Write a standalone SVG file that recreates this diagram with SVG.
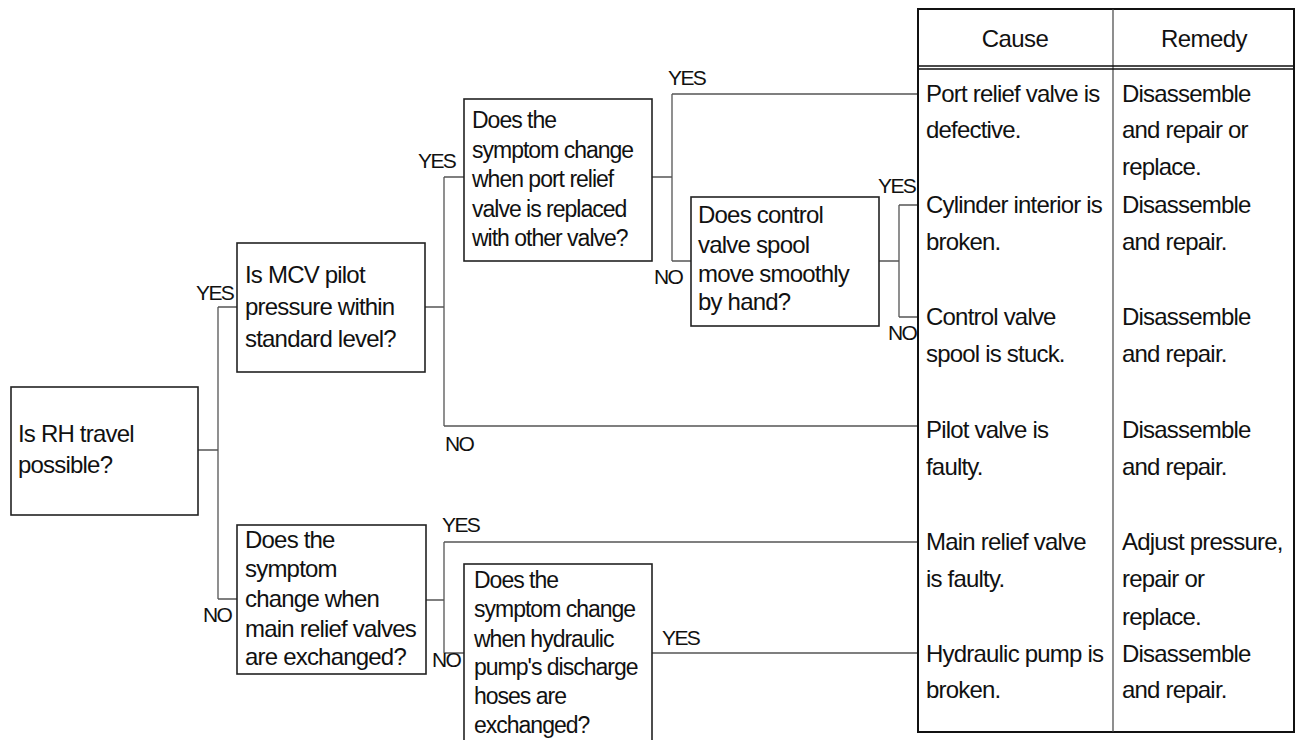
<svg xmlns="http://www.w3.org/2000/svg" width="1308" height="740" viewBox="0 0 1308 740">
<style>
.t{font-family:"Liberation Sans",Arial,sans-serif;font-size:24px;letter-spacing:-0.8px;fill:#111}
.s{font-family:"Liberation Sans",Arial,sans-serif;font-size:23px;letter-spacing:-1px;fill:#111}
.l{font-family:"Liberation Sans",Arial,sans-serif;font-size:21px;letter-spacing:-1.6px;fill:#111}
.h{font-family:"Liberation Sans",Arial,sans-serif;font-size:24px;letter-spacing:-0.6px;fill:#111;text-anchor:middle}
.box{fill:#fff;stroke:#222;stroke-width:1.6}
.c{fill:none;stroke:#555;stroke-width:1.3}
</style>
<rect width="1308" height="740" fill="#fff"/>
<g id="connectors">
<path class="c" d="M198,450H218M218,307V599M218,307H237M218,599H237"/>
<path class="c" d="M425,307H444M444,177V426M444,177H464M444,426H918"/>
<path class="c" d="M652,177H672M672,94V261M672,94H918M672,261H691"/>
<path class="c" d="M879,261H899M899,205V317M899,205H918M899,317H918"/>
<path class="c" d="M426,600H444M444,542V653M444,542H918M444,653H464"/>
<path class="c" d="M652,653H918"/>
<text class="l" x="196" y="300">YES</text>
<text class="l" x="203" y="622">NO</text>
<text class="l" x="418" y="168">YES</text>
<text class="l" x="445" y="451">NO</text>
<text class="l" x="668" y="85">YES</text>
<text class="l" x="654" y="284">NO</text>
<text class="l" x="878" y="193">YES</text>
<text class="l" x="888" y="340">NO</text>
<text class="l" x="442" y="532">YES</text>
<text class="l" x="432" y="667">NO</text>
<text class="l" x="662" y="645">YES</text>
</g>
<g id="root">
<rect class="box" x="11" y="387" width="187" height="128"/>
<text class="t"><tspan x="18" y="442">Is RH travel</tspan><tspan x="18" y="473">possible?</tspan></text>
</g>
<g id="mcv">
<rect class="box" x="237" y="243" width="188" height="129"/>
<text class="t"><tspan x="245" y="283">Is MCV pilot</tspan><tspan x="245" y="315">pressure within</tspan><tspan x="245" y="347">standard level?</tspan></text>
</g>
<g id="portrelief">
<rect class="box" x="464" y="99" width="188" height="162"/>
<text class="s"><tspan x="472" y="128">Does the</tspan><tspan x="472" y="158">symptom change</tspan><tspan x="472" y="187">when port relief</tspan><tspan x="472" y="217">valve is replaced</tspan><tspan x="472" y="246">with other valve?</tspan></text>
</g>
<g id="control">
<rect class="box" x="691" y="197" width="188" height="129"/>
<text class="t"><tspan x="698" y="223">Does control</tspan><tspan x="698" y="253">valve spool</tspan><tspan x="698" y="282">move smoothly</tspan><tspan x="698" y="310">by hand?</tspan></text>
</g>
<g id="mainrelief">
<rect class="box" x="237" y="525" width="189" height="149"/>
<text class="t"><tspan x="245" y="548">Does the</tspan><tspan x="245" y="577">symptom</tspan><tspan x="245" y="607">change when</tspan><tspan x="245" y="637">main relief valves</tspan><tspan x="245" y="665">are exchanged?</tspan></text>
</g>
<g id="hydraulic">
<rect class="box" x="464" y="564" width="188" height="200"/>
<text class="s"><tspan x="474" y="588">Does the</tspan><tspan x="474" y="617">symptom change</tspan><tspan x="474" y="647">when hydraulic</tspan><tspan x="474" y="675">pump's discharge</tspan><tspan x="474" y="704">hoses are</tspan><tspan x="474" y="733">exchanged?</tspan></text>
</g>
<g id="table">
<rect x="918" y="9" width="376" height="723" fill="#fff" stroke="#111" stroke-width="2"/>
<path d="M1113,9V732" stroke="#444" stroke-width="1.2" fill="none"/>
<path d="M918,66H1294M918,69H1294" stroke="#111" stroke-width="1.3" fill="none"/>
<text class="h" x="1015" y="47">Cause</text>
<text class="h" x="1204" y="47">Remedy</text>
<text class="t"><tspan x="926" y="102">Port relief valve is</tspan><tspan x="926" y="138">defective.</tspan></text>
<text class="t"><tspan x="1122" y="102">Disassemble</tspan><tspan x="1122" y="138">and repair or</tspan><tspan x="1122" y="175">replace.</tspan></text>
<text class="t"><tspan x="926" y="213">Cylinder interior is</tspan><tspan x="926" y="250">broken.</tspan></text>
<text class="t"><tspan x="1122" y="213">Disassemble</tspan><tspan x="1122" y="250">and repair.</tspan></text>
<text class="t"><tspan x="926" y="325">Control valve</tspan><tspan x="926" y="362">spool is stuck.</tspan></text>
<text class="t"><tspan x="1122" y="325">Disassemble</tspan><tspan x="1122" y="362">and repair.</tspan></text>
<text class="t"><tspan x="926" y="438">Pilot valve is</tspan><tspan x="926" y="475">faulty.</tspan></text>
<text class="t"><tspan x="1122" y="438">Disassemble</tspan><tspan x="1122" y="475">and repair.</tspan></text>
<text class="t"><tspan x="926" y="550">Main relief valve</tspan><tspan x="926" y="587">is faulty.</tspan></text>
<text class="t"><tspan x="1122" y="550">Adjust pressure,</tspan><tspan x="1122" y="587">repair or</tspan><tspan x="1122" y="625">replace.</tspan></text>
<text class="t"><tspan x="926" y="662">Hydraulic pump is</tspan><tspan x="926" y="698">broken.</tspan></text>
<text class="t"><tspan x="1122" y="662">Disassemble</tspan><tspan x="1122" y="698">and repair.</tspan></text>
</g>
</svg>
